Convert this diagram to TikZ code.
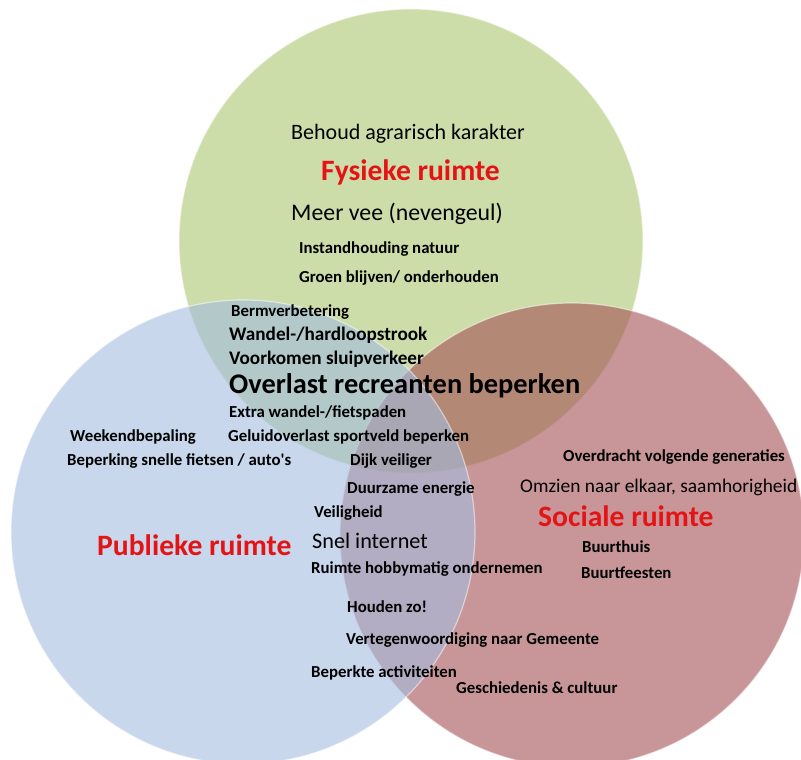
\documentclass[tikz,border=0pt]{standalone}
\usepackage{fontspec}
\setmainfont{Carlito}
\definecolor{fysiek}{RGB}{172,198,113}
\definecolor{publiek}{RGB}{163,188,222}
\definecolor{sociaal}{RGB}{163,80,83}
\definecolor{titelrood}{RGB}{228,20,22}
\begin{document}
\begin{tikzpicture}[x=1pt,y=-1pt]

        \clip (0,0) rectangle (801,760);
        \useasboundingbox (0,0) rectangle (801,760);

        \begin{scope}[every path/.style={fill opacity=.6, draw=white, draw opacity=.5, line width=1.2pt}]
          \filldraw[fill=fysiek]  (411,241) circle (232);
          \filldraw[fill=sociaal] (572,535) circle (232);
          \filldraw[fill=publiek] (243,532) circle (232);
        \end{scope}

        \begin{scope}[every node/.style={anchor=west, inner sep=0pt, font=\bfseries\fontsize{16.8}{18}\selectfont}]
          \node (behoud)   at (291,134) {\fontsize{22}{24}\selectfont\mdseries Behoud agrarisch karakter};
          \node (meervee)  at (291,214) {\fontsize{23.8}{26}\selectfont\mdseries Meer vee (nevengeul)};
          \node (natuur)   at (299,249) {Instandhouding natuur};
          \node (groen)    at (299,278) {Groen blijven/ onderhouden};
          \node (berm)     at (231,312) {Bermverbetering};
          \node (wandel)   at (229,335) {\fontsize{19.2}{21}\selectfont Wandel-/hardloopstrook};
          \node (sluip)    at (229,359) {\fontsize{19.2}{21}\selectfont Voorkomen sluipverkeer};
          \node (overlast) at (229,386) {\fontsize{28.4}{30}\selectfont Overlast recreanten beperken};
          \node (extra)    at (229,413) {Extra wandel-/fietspaden};
          \node (weekend)  at (70,437)  {Weekendbepaling};
          \node (geluid)   at (228,437) {Geluidoverlast sportveld beperken};
          \node (snelle)   at (67,461)  {Beperking snelle fietsen / auto\textquotesingle s};
          \node (dijk)     at (350,461) {Dijk veiliger};
          \node (overdr)   at (563,457) {Overdracht volgende generaties};
          \node (energie)  at (347,489) {Duurzame energie};
          \node (omzien)   at (520,487) {\fontsize{19.4}{21}\selectfont\mdseries Omzien naar elkaar, saamhorigheid};
          \node (veilig)   at (314,513) {Veiligheid};
          \node (internet) at (312,541) {\fontsize{22.2}{24}\selectfont\mdseries Snel internet};
          \node (hobby)    at (311,569) {Ruimte hobbymatig ondernemen};
          \node (buurthuis) at (582,547) {Buurthuis};
          \node (feesten)  at (581,573) {Buurtfeesten};
          \node (houden)   at (347,607) {Houden zo!};
          \node (gemeente) at (346,640) {Vertegenwoordiging naar Gemeente};
          \node (beperkt)  at (311,673) {Beperkte activiteiten};
          \node (geschied) at (456,688) {Geschiedenis \& cultuur};
        \end{scope}

        \begin{scope}[every node/.style={anchor=west, inner sep=0pt, text=titelrood, font=\bfseries\fontsize{29.6}{31}\selectfont}]
          \node (fysieke)  at (321,172) {Fysieke ruimte};
          \node (sociale)  at (538,516) {Sociale ruimte};
          \node (publieke) at (97,545)  {Publieke ruimte};
        \end{scope}

      \end{tikzpicture}
\end{document}
